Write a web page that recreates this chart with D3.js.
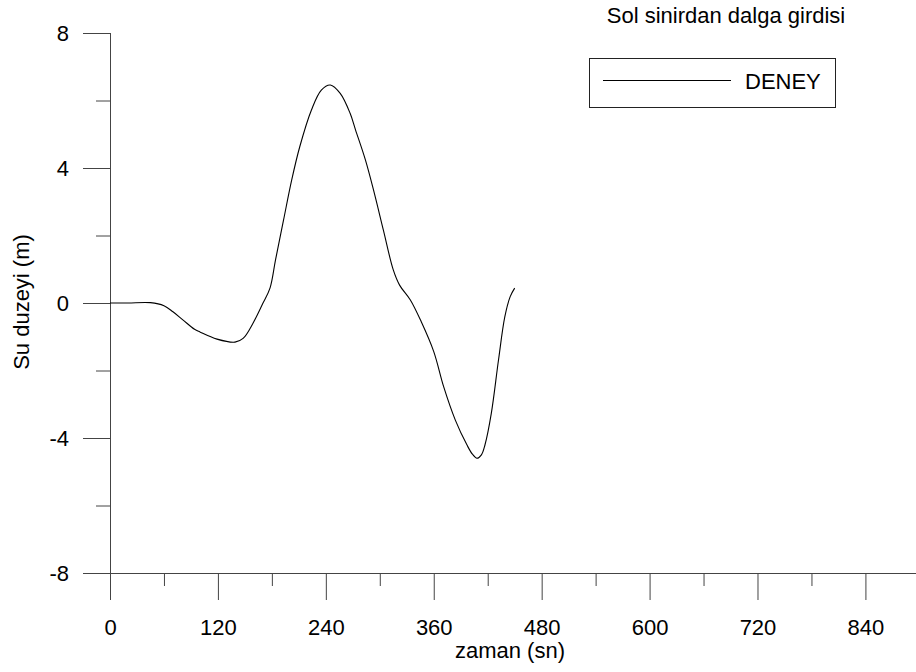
<!DOCTYPE html>
<html>
<head>
<meta charset="utf-8">
<script src="https://cdn.jsdelivr.net/npm/d3@7"></script>
<style>
  body { margin: 0; background: #fff; }
  svg text { font-family: Arial, "Liberation Sans", sans-serif; font-size: 22px; fill: #000; }
</style>
</head>
<body>
<div id="chart"></div>
<script>
// zaman (sn)
const times = [0, 20, 45, 60, 70, 81, 94, 100, 119, 139, 148, 159, 170, 178, 184, 193, 202, 211, 224, 235, 245, 256, 267, 273, 284, 293, 304, 315, 322, 334, 346, 360, 371, 384, 397, 403, 408, 413, 417, 424, 432, 439, 445, 450];
// Su duzeyi (m) - DENEY
const deney = [0, 0, 0.01, -0.08, -0.26, -0.5, -0.78, -0.86, -1.07, -1.16, -1.05, -0.6, -0.01, 0.45, 1.27, 2.46, 3.64, 4.63, 5.72, 6.31, 6.46, 6.21, 5.62, 5.13, 4.24, 3.35, 2.16, 0.98, 0.53, 0.09, -0.55, -1.44, -2.48, -3.47, -4.21, -4.48, -4.6, -4.5, -4.2, -3.27, -1.69, -0.41, 0.19, 0.44];

const xMajor = [0, 120, 240, 360, 480, 600, 720, 840];
const xMinor = [60, 180, 300, 420, 540, 660, 780];
const yMajor = [-8, -4, 0, 4, 8];
const yMinor = [-6, -2, 2, 6];

const W = 916, H = 672;
const svg = d3.select("#chart").append("svg")
  .attr("width", W).attr("height", H);

const x = d3.scaleLinear().domain([0, 900]).range([110, 110 + 900 * 0.8993]);
const y = d3.scaleLinear().domain([-8, 8]).range([573, 33]);

const axisColor = "#444";

// x axis
const gx = svg.append("g").attr("transform", "translate(0,573)")
  .call(d3.axisBottom(x).tickValues(xMajor).tickSize(27).tickFormat(d => String(d)));
gx.select(".domain").attr("d", `M${x(0)},0.5H${W}`);
gx.selectAll("text").attr("y", 46).attr("dy", "0.71em");
svg.append("g").attr("transform", "translate(0,573)")
  .call(d3.axisBottom(x).tickValues(xMinor).tickSize(13).tickFormat(""))
  .select(".domain").remove();

// y axis
const gy = svg.append("g").attr("transform", "translate(110,0)")
  .call(d3.axisLeft(y).tickValues(yMajor).tickSize(27).tickPadding(14).tickFormat(d => String(d)));
gy.select(".domain").attr("d", `M0.5,${y(8)}V${y(-8)}`);
svg.append("g").attr("transform", "translate(110,0)")
  .call(d3.axisLeft(y).tickValues(yMinor).tickSize(14).tickFormat(""))
  .select(".domain").remove();

svg.selectAll(".domain, .tick line").attr("stroke", axisColor);
svg.selectAll(".tick text").attr("fill", "#000")
  .attr("font-family", null).attr("font-size", null);

// axis labels
svg.append("text")
  .attr("x", 510).attr("y", 658)
  .attr("text-anchor", "middle")
  .text("zaman (sn)");

svg.append("text")
  .attr("transform", "translate(29,302) rotate(-90)")
  .attr("text-anchor", "middle")
  .text("Su duzeyi (m)");

// title
svg.append("text")
  .attr("x", 726).attr("y", 23)
  .attr("text-anchor", "middle")
  .text("Sol sinirdan dalga girdisi");

// data line
const line = d3.line()
  .x((d, i) => x(times[i]))
  .y(d => y(d))
  .curve(d3.curveCatmullRom.alpha(0.5));

svg.append("path")
  .datum(deney)
  .attr("fill", "none")
  .attr("stroke", "#000")
  .attr("stroke-width", 1.1)
  .attr("d", line);

// legend
const lg = svg.append("g");
lg.append("rect")
  .attr("x", 589.5).attr("y", 58.5)
  .attr("width", 246).attr("height", 49)
  .attr("fill", "none").attr("stroke", "#222");
lg.append("line")
  .attr("x1", 603).attr("x2", 731)
  .attr("y1", 80.5).attr("y2", 80.5)
  .attr("stroke", "#000");
lg.append("text")
  .attr("x", 745).attr("y", 89)
  .text("DENEY");
</script>
</body>
</html>
